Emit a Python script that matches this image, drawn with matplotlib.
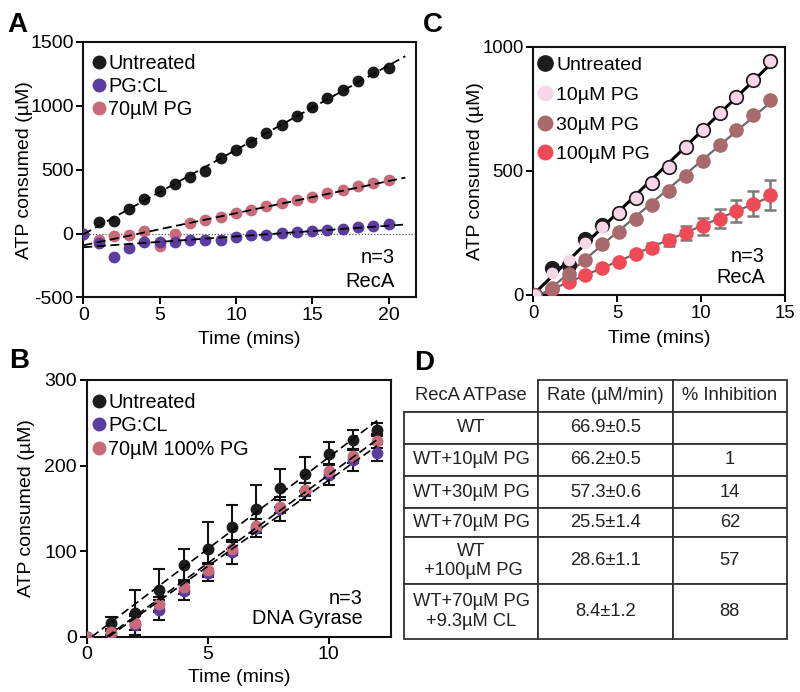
import numpy as np
import matplotlib.pyplot as plt

plt.rcParams['font.family'] = ['Liberation Sans', 'DejaVu Sans']
plt.rcParams['axes.unicode_minus'] = False

# ---- panel A: RecA, lipid vesicles
time_a = np.arange(0, 21)
untreated_a = [0, 91, 98, 194, 272, 331, 388, 445, 492, 590, 654, 716, 789, 854,
               918, 988, 1061, 1126, 1198, 1262, 1294]
pgcl_a = [0, -72, -186, -116, -65, -65, -65, -47, -47, -47, -26, -13, -13, 5,
          13, 21, 31, 39, 51, 57, 78]
pg70_a = [0, -52, -21, -13, 21, -93, -5, 85, 104, 129, 160, 184, 215, 241,
          264, 290, 318, 344, 370, 393, 421]

# ---- panel B: DNA gyrase
time_b = np.arange(0, 13)
untreated_b = [0, 16, 28, 54, 84, 103, 128, 149, 174, 190, 214, 230, 242]
untreated_b_err = [0, 7, 27, 25, 19, 31, 26, 28, 22, 20, 13, 11, 8]
pgcl_b = [0, 3, 14, 31, 53, 75, 99, 127, 149, 170, 189, 206, 215]
pgcl_b_err = [0, 4, 12, 12, 10, 10, 14, 10, 14, 10, 12, 12, 10]
pg70_b = [0, 5, 16, 38, 58, 78, 103, 129, 152, 172, 194, 211, 229]
pg70_b_err = [0, 3, 8, 8, 8, 8, 8, 8, 8, 8, 8, 8, 8]

# ---- panel C: RecA, PG titration
time_c = np.arange(0, 15) + 0.1
untreated_c = [0, 107, 120, 224, 281, 331, 392, 451, 515, 596, 663, 732, 799, 867, 941]
pg10_c = [0, 90, 141, 208, 274, 331, 392, 451, 515, 596, 663, 732, 799, 867, 941]
pg30_c = [0, 27, 84, 141, 204, 254, 308, 361, 419, 478, 540, 605, 665, 726, 786]
pg100_c = [0, 25, 53, 80, 107, 134, 165, 190, 221, 250, 277, 308, 339, 368, 402]
pg100_c_err = [0, 3, 4, 5, 6, 8, 12, 18, 22, 28, 35, 40, 45, 50, 60]

# ---- panel D: table
headers = ['RecA ATPase', 'Rate (µM/min)', '% Inhibition']
conditions = ['WT', 'WT+10µM PG', 'WT+30µM PG', 'WT+70µM PG',
              'WT\n +100µM PG', 'WT+70µM PG\n+9.3µM CL']
rates = ['66.9±0.5', '66.2±0.5', '57.3±0.6', '25.5±1.4', '28.6±1.1', '8.4±1.2']
inhibition = ['', '1', '14', '62', '57', '88']

BLACK = '#1c1c1c'
PURPLE = '#5b3d9f'
ROSE = '#c96a7b'
LIGHTPINK = '#f8d6e8'
BROWN = '#a86a6c'
RED = '#ee4b56'

W, H = 800, 692
fig = plt.figure(figsize=(W / 100, H / 100), dpi=100)


def px_axes(left, top, right, bottom):
    return fig.add_axes([left / W, 1 - bottom / H, (right - left) / W, (bottom - top) / H])


def style(ax, fs=14):
    for s in ax.spines.values():
        s.set_linewidth(1.5)
        s.set_color('#111111')
    ax.tick_params(direction='out', length=5, width=1.4, labelsize=fs, pad=2)


def fit_line(ax, x, y, x0, x1, **kw):
    k, b = np.polyfit(x, y, 1)
    xs = np.array([x0, x1])
    ax.plot(xs, k * xs + b, **kw)
    return k, b


# ================= A
ax = px_axes(83.3, 42, 416, 297.5)
style(ax)
ax.axhline(0, color='#555555', lw=0.9, ls=(0, (1, 1.5)), zorder=1)
for y in (untreated_a, pg70_a, pgcl_a):
    fit_line(ax, time_a, y, 0, 21.1, color='k', lw=1.3, ls=(0, (5, 2.5)), zorder=4)
ax.plot(time_a, untreated_a, 'o', color=BLACK, ms=7.5, label='Untreated', zorder=3)
ax.plot(time_a, pg70_a, 'o', color=ROSE, ms=7.5, zorder=3)
ax.plot(time_a, pgcl_a, 'o', color=PURPLE, ms=7.5, zorder=3)
ax.plot([], [], 'o', color=PURPLE, ms=7.5, label='PG:CL')
ax.plot([], [], 'o', color=ROSE, ms=7.5, label='70µM PG')
ax.set_xlim(0, 21.8)
ax.set_ylim(-500, 1500)
ax.set_xticks([0, 5, 10, 15, 20])
ax.set_yticks([-500, 0, 500, 1000, 1500])
ax.set_xlabel('Time (mins)', fontsize=14)
ax.set_ylabel('ATP consumed (µM)', fontsize=14)
ax.yaxis.set_label_coords(-0.152, 0.5)
ax.xaxis.set_label_coords(0.5, -0.13)
ax.legend(loc='upper left', bbox_to_anchor=(0.03, 0.952), frameon=False, fontsize=14.3,
          handlelength=0.6, handletextpad=0.15, labelspacing=0.2, borderpad=0,
          borderaxespad=0, markerscale=1.2)
ax.text(0.937, 0.155, 'n=3', transform=ax.transAxes, ha='right', va='center', fontsize=14.5)
ax.text(0.937, 0.062, 'RecA', transform=ax.transAxes, ha='right', va='center', fontsize=14.5)

# ================= B
ax = px_axes(86.7, 380, 391, 636.7)
style(ax)
for y in (untreated_b, pgcl_b, pg70_b):
    k, b = np.polyfit(time_b, y, 1)
    fit_line(ax, time_b, y, max(0, -b / k), 12, color='k', lw=1.2, ls=(0, (5, 2.5)), zorder=4)
ekw = dict(fmt='none', ecolor='#111111', elinewidth=1.5, capsize=4, capthick=1.5, zorder=2)
ax.errorbar(time_b, untreated_b, yerr=untreated_b_err, **ekw)
ax.errorbar(time_b, pgcl_b, yerr=pgcl_b_err, **ekw)
ax.errorbar(time_b, pg70_b, yerr=pg70_b_err, **ekw)
ax.plot(time_b, untreated_b, 'o', color=BLACK, ms=7.5, label='Untreated', zorder=3)
ax.plot(time_b, pgcl_b, 'o', color=PURPLE, ms=7.5, label='PG:CL', zorder=3)
ax.plot(time_b, pg70_b, 'o', color=ROSE, ms=7.5, label='70µM 100% PG', zorder=3)
ax.set_xlim(0, 12.57)
ax.set_ylim(0, 300)
ax.set_xticks([0, 5, 10])
ax.set_yticks([0, 100, 200, 300])
ax.set_xlabel('Time (mins)', fontsize=14)
ax.set_ylabel('ATP consumed (µM)', fontsize=14)
ax.yaxis.set_label_coords(-0.17, 0.5)
ax.xaxis.set_label_coords(0.5, -0.125)
ax.legend(loc='upper left', bbox_to_anchor=(0.022, 0.95), frameon=False, fontsize=14.3,
          handlelength=0.6, handletextpad=0.15, labelspacing=0.22, borderpad=0,
          borderaxespad=0, markerscale=1.2)
ax.text(0.908, 0.147, 'n=3', transform=ax.transAxes, ha='right', va='center', fontsize=14.3)
ax.text(0.908, 0.069, 'DNA Gyrase', transform=ax.transAxes, ha='right', va='center', fontsize=14.3)

# ================= C
ax = px_axes(533.3, 46.7, 785, 295)
style(ax, fs=13.3)
fit_line(ax, time_c, untreated_c, time_c[0], time_c[-1], color='k', lw=2.2, zorder=2)
fit_line(ax, time_c, pg30_c, time_c[0], time_c[-1], color='#6a6a6a', lw=1.6, zorder=2)
fit_line(ax, time_c, pg100_c, time_c[0], time_c[-1], color='#6a6a6a', lw=1.6, zorder=2)
ax.errorbar(time_c, pg100_c, yerr=pg100_c_err, fmt='none', ecolor='#7a7a7a',
            elinewidth=1.8, capsize=4, capthick=1.8, zorder=2)
ax.plot(time_c, pg100_c, 'o', color=RED, ms=9.5, zorder=3)
ax.plot(time_c, untreated_c, 'o', color=BLACK, ms=10, label='Untreated', zorder=3)
ax.plot(time_c, pg30_c, 'o', color=BROWN, ms=9.5, zorder=3)
ax.plot(time_c, pg10_c, 'o', color=LIGHTPINK, ms=7.5, zorder=4)
ax.plot([], [], 'o', color=LIGHTPINK, ms=9.5, label='10µM PG')
ax.plot([], [], 'o', color=BROWN, ms=9.5, label='30µM PG')
ax.plot([], [], 'o', color=RED, ms=9.5, label='100µM PG')
ax.set_xlim(0, 15)
ax.set_ylim(0, 1000)
ax.set_xticks([0, 5, 10, 15])
ax.set_yticks([0, 500, 1000])
ax.set_xlabel('Time (mins)', fontsize=14)
ax.set_ylabel('ATP consumed (µM)', fontsize=14)
ax.yaxis.set_label_coords(-0.195, 0.5)
ax.xaxis.set_label_coords(0.5, -0.14)
ax.legend(loc='upper left', bbox_to_anchor=(0.025, 0.96), frameon=False, fontsize=14,
          handlelength=0.6, handletextpad=0.25, labelspacing=0.62, borderpad=0,
          borderaxespad=0, markerscale=1.1)
ax.text(0.92, 0.154, 'n=3', transform=ax.transAxes, ha='right', va='center', fontsize=14.3)
ax.text(0.92, 0.072, 'RecA', transform=ax.transAxes, ha='right', va='center', fontsize=14.3)

# ================= D
ax = px_axes(404, 380, 787, 639)
ax.axis('off')
cells = [[c, r, i] for c, r, i in zip(conditions, rates, inhibition)]
col_w = np.array([134.3, 134.4, 114.3]) / 383
row_h = np.array([31.7, 32.3, 32.0, 32.3, 29.0, 47.0, 54.7]) / 259
tab = ax.table(cellText=cells, colLabels=headers, colWidths=list(col_w),
               cellLoc='center', loc='center')
tab.auto_set_font_size(False)
tab.set_fontsize(13.2)
for (r, c), cell in tab.get_celld().items():
    cell.set_height(row_h[r])
    cell.set_linewidth(1.3)
    cell.set_edgecolor('#333333')
    cell.get_text().set_color('#222222')
    if r == 0 and c == 0:
        cell.visible_edges = 'BR'

for lbl, x, y in [('A', 7, 32), ('B', 9, 368), ('C', 423, 32), ('D', 414, 370)]:
    fig.text(x / W, 1 - y / H, lbl, fontsize=20, fontweight='bold', va='baseline', ha='left')

fig.savefig('out.png', dpi=100)
